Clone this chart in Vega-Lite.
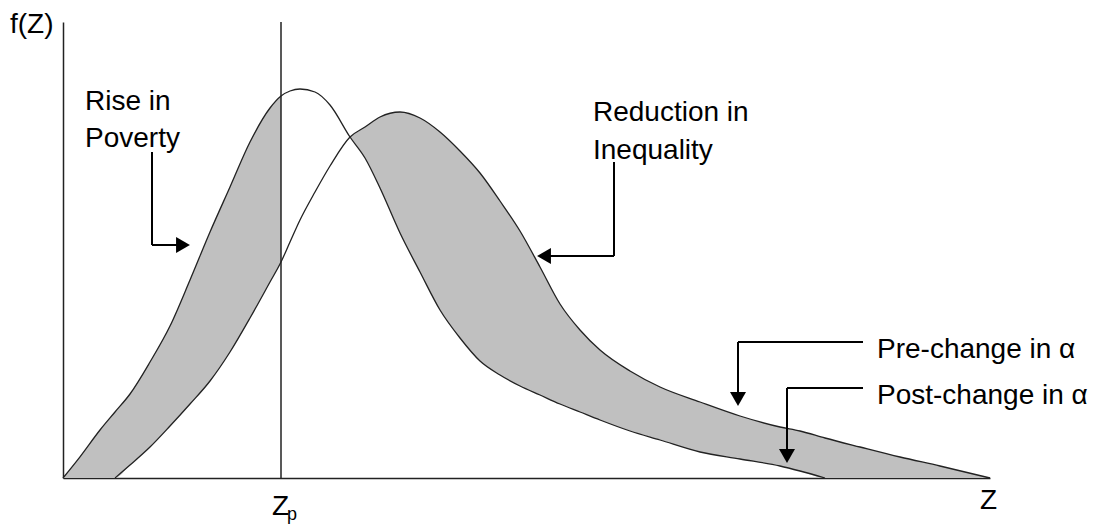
{
  "$schema": "https://vega.github.io/schema/vega-lite/v6.json",
  "width": 927,
  "height": 456,
  "autosize": "none",
  "padding": {"left": 63, "top": 22, "right": 109, "bottom": 46},
  "background": "white",
  "config": {
    "view": {"stroke": null},
    "axis": {"domainColor": "#222", "domainWidth": 1.5, "ticks": false, "labels": false, "grid": false},
    "text": {"font": "Liberation Sans", "color": "#000"}
  },
  "datasets": {
    "curves": [
      {"z": 0, "post": 0, "pre": 0},
      {"z": 0.17, "post": 0.053, "pre": 0},
      {"z": 0.37, "post": 0.12, "pre": 0},
      {"z": 0.52, "post": 0.165, "pre": 0},
      {"z": 0.67, "post": 0.21, "pre": 0.0325},
      {"z": 0.87, "post": 0.29, "pre": 0.0775},
      {"z": 1.07, "post": 0.38, "pre": 0.13},
      {"z": 1.27, "post": 0.495, "pre": 0.185},
      {"z": 1.47, "post": 0.615, "pre": 0.2425},
      {"z": 1.67, "post": 0.7275, "pre": 0.315},
      {"z": 1.87, "post": 0.84, "pre": 0.4},
      {"z": 2.07, "post": 0.925, "pre": 0.49},
      {"z": 2.18, "post": 0.955, "pre": 0.54},
      {"z": 2.27, "post": 0.9675, "pre": 0.59},
      {"z": 2.37, "post": 0.9725, "pre": 0.645},
      {"z": 2.52, "post": 0.965, "pre": 0.715},
      {"z": 2.67, "post": 0.9325, "pre": 0.78},
      {"z": 2.87, "post": 0.8525, "pre": 0.8525},
      {"z": 3.02, "post": 0.8, "pre": 0.8775},
      {"z": 3.17, "post": 0.725, "pre": 0.9025},
      {"z": 3.37, "post": 0.6125, "pre": 0.915},
      {"z": 3.57, "post": 0.515, "pre": 0.9},
      {"z": 3.77, "post": 0.42, "pre": 0.865},
      {"z": 3.97, "post": 0.35, "pre": 0.8175},
      {"z": 4.17, "post": 0.2925, "pre": 0.7625},
      {"z": 4.37, "post": 0.2575, "pre": 0.6925},
      {"z": 4.57, "post": 0.23, "pre": 0.6175},
      {"z": 4.77, "post": 0.2075, "pre": 0.5275},
      {"z": 4.97, "post": 0.185, "pre": 0.435},
      {"z": 5.17, "post": 0.165, "pre": 0.37},
      {"z": 5.37, "post": 0.145, "pre": 0.32},
      {"z": 5.67, "post": 0.1175, "pre": 0.2675},
      {"z": 5.97, "post": 0.095, "pre": 0.2275},
      {"z": 6.37, "post": 0.065, "pre": 0.19},
      {"z": 6.77, "post": 0.0475, "pre": 0.155},
      {"z": 7.17, "post": 0.03, "pre": 0.1275},
      {"z": 7.37, "post": 0.0175, "pre": 0.1175},
      {"z": 7.62, "post": 0, "pre": 0.1},
      {"z": 7.97, "post": 0, "pre": 0.0775},
      {"z": 8.37, "post": 0, "pre": 0.0525},
      {"z": 8.77, "post": 0, "pre": 0.03},
      {"z": 9.27, "post": 0, "pre": 0}
    ],
    "arrows": [
      {"x1": 0.89, "y1": 0.815, "x2": 0.89, "y2": 0.5825},
      {"x1": 0.89, "y1": 0.5825, "x2": 1.17, "y2": 0.5825},
      {"x1": 5.51, "y1": 0.79, "x2": 5.51, "y2": 0.555},
      {"x1": 5.51, "y1": 0.555, "x2": 4.85, "y2": 0.555},
      {"x1": 8.0, "y1": 0.34, "x2": 6.75, "y2": 0.34},
      {"x1": 6.75, "y1": 0.34, "x2": 6.75, "y2": 0.2075},
      {"x1": 8.0, "y1": 0.225, "x2": 7.24, "y2": 0.225},
      {"x1": 7.24, "y1": 0.225, "x2": 7.24, "y2": 0.0575}
    ],
    "labels": [
      {"z": -0.53, "f": 1.1125, "text": "f(Z)"},
      {"z": 0.22, "f": 0.92, "text": "Rise in"},
      {"z": 0.22, "f": 0.8275, "text": "Poverty"},
      {"z": 5.3, "f": 0.8925, "text": "Reduction in"},
      {"z": 5.3, "f": 0.7975, "text": "Inequality"},
      {"z": 8.14, "f": 0.3, "text": "Pre-change in α"},
      {"z": 8.14, "f": 0.185, "text": "Post-change in α"},
      {"z": 2.09, "f": -0.0925, "text": "Z"},
      {"z": 9.17, "f": -0.0775, "text": "Z"}
    ]
  },
  "layer": [
    {
      "data": {"name": "curves"},
      "transform": [{"filter": "datum.z <= 2.18"}],
      "mark": {"type": "area", "color": "#c0c0c0", "opacity": 1, "interpolate": "monotone"},
      "encoding": {
        "x": {"field": "z", "type": "quantitative", "title": null, "scale": {"domain": [0, 9.27], "nice": false, "zero": false}},
        "y": {"field": "post", "type": "quantitative", "title": null, "scale": {"domain": [0, 1.14], "nice": false, "zero": false}},
        "y2": {"field": "pre"}
      }
    },
    {
      "data": {"name": "curves"},
      "transform": [{"filter": "datum.z >= 2.87"}],
      "mark": {"type": "area", "color": "#c0c0c0", "opacity": 1, "interpolate": "monotone"},
      "encoding": {
        "x": {"field": "z", "type": "quantitative", "title": null},
        "y": {"field": "pre", "type": "quantitative", "title": null},
        "y2": {"field": "post"}
      }
    },
    {
      "data": {"name": "curves"},
      "transform": [{"filter": "datum.z <= 7.62"}],
      "mark": {"type": "line", "color": "#222", "strokeWidth": 1.3, "interpolate": "monotone"},
      "encoding": {
        "x": {"field": "z", "type": "quantitative", "title": null},
        "y": {"field": "post", "type": "quantitative", "title": null}
      }
    },
    {
      "data": {"name": "curves"},
      "transform": [{"filter": "datum.z >= 0.52"}],
      "mark": {"type": "line", "color": "#222", "strokeWidth": 1.3, "interpolate": "monotone"},
      "encoding": {
        "x": {"field": "z", "type": "quantitative", "title": null},
        "y": {"field": "pre", "type": "quantitative", "title": null}
      }
    },
    {
      "data": {"values": [{"z": 2.18}]},
      "mark": {"type": "rule", "color": "#222", "strokeWidth": 1.5},
      "encoding": {
        "x": {"field": "z", "type": "quantitative", "title": null}
      }
    },
    {
      "data": {"name": "arrows"},
      "mark": {"type": "rule", "color": "#000", "strokeWidth": 2},
      "encoding": {
        "x": {"field": "x1", "type": "quantitative", "title": null},
        "x2": {"field": "x2"},
        "y": {"field": "y1", "type": "quantitative", "title": null},
        "y2": {"field": "y2"}
      }
    },
    {
      "data": {"values": [{"z": 1.2, "f": 0.5825}]},
      "mark": {"type": "point", "shape": "triangle-right", "filled": true, "color": "#000", "opacity": 1, "size": 256},
      "encoding": {
        "x": {"field": "z", "type": "quantitative", "title": null},
        "y": {"field": "f", "type": "quantitative", "title": null}
      }
    },
    {
      "data": {"values": [{"z": 4.81, "f": 0.555}]},
      "mark": {"type": "point", "shape": "triangle-left", "filled": true, "color": "#000", "opacity": 1, "size": 256},
      "encoding": {
        "x": {"field": "z", "type": "quantitative", "title": null},
        "y": {"field": "f", "type": "quantitative", "title": null}
      }
    },
    {
      "data": {"values": [{"z": 6.75, "f": 0.1975}, {"z": 7.24, "f": 0.055}]},
      "mark": {"type": "point", "shape": "triangle-down", "filled": true, "color": "#000", "opacity": 1, "size": 256},
      "encoding": {
        "x": {"field": "z", "type": "quantitative", "title": null},
        "y": {"field": "f", "type": "quantitative", "title": null}
      }
    },
    {
      "data": {"name": "labels"},
      "mark": {"type": "text", "fontSize": 28, "align": "left", "baseline": "alphabetic"},
      "encoding": {
        "x": {"field": "z", "type": "quantitative", "title": null},
        "y": {"field": "f", "type": "quantitative", "title": null},
        "text": {"field": "text"}
      }
    },
    {
      "data": {"values": [{"z": 2.24, "f": -0.105, "text": "p"}]},
      "mark": {"type": "text", "fontSize": 18, "align": "left", "baseline": "alphabetic"},
      "encoding": {
        "x": {"field": "z", "type": "quantitative", "title": null},
        "y": {"field": "f", "type": "quantitative", "title": null},
        "text": {"field": "text"}
      }
    }
  ]
}
